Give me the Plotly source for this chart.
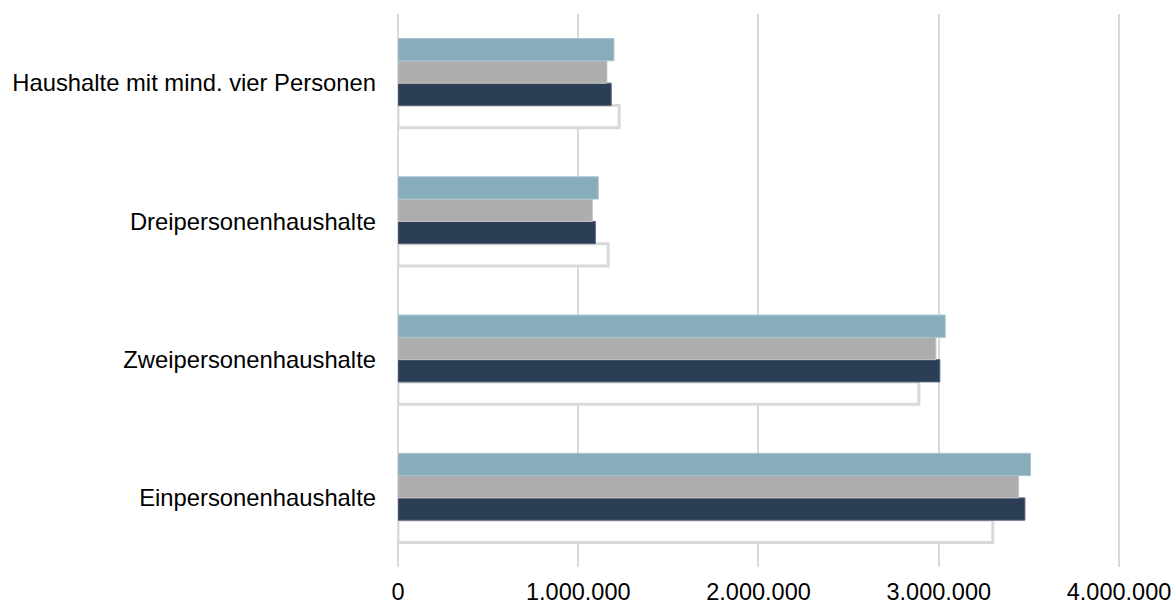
import plotly.graph_objects as go

# Haushaltsgrößen (Kategorien von unten nach oben)
categories = [
    "Einpersonenhaushalte",
    "Zweipersonenhaushalte",
    "Dreipersonenhaushalte",
    "Haushalte mit mind. vier Personen",
]

# Vier Vergleichsreihen, Reihenfolge innerhalb einer Gruppe von unten nach oben
series_a = [3300000, 2890000, 1166000, 1227000]   # weiß, grau umrandet
series_b = [3478000, 3006000, 1095000, 1183000]   # dunkelblau
series_c = [3443000, 2984000, 1078000, 1159000]   # grau
series_d = [3509000, 3036000, 1111000, 1198000]   # hellblau

tick_values = [0, 1000000, 2000000, 3000000, 4000000]
tick_labels = ["0", "1.000.000", "2.000.000", "3.000.000", "4.000.000"]

fig = go.Figure()
fig.add_trace(go.Bar(y=categories, x=series_a, orientation="h",
                     marker=dict(color="#ffffff", line=dict(color="#d9d9d9", width=3))))
fig.add_trace(go.Bar(y=categories, x=series_b, orientation="h",
                     marker=dict(color="#2c3e56", line=dict(color="#55657a", width=1))))
fig.add_trace(go.Bar(y=categories, x=series_c, orientation="h",
                     marker=dict(color="#adadad", line=dict(color="#c4c4c4", width=1))))
fig.add_trace(go.Bar(y=categories, x=series_d, orientation="h",
                     marker=dict(color="#87adbc", line=dict(color="#a9c5d0", width=1))))

fig.update_layout(
    width=1176, height=603,
    margin=dict(l=398, r=48, t=14, b=36),
    paper_bgcolor="#ffffff", plot_bgcolor="#ffffff",
    barmode="group", bargap=0.355, bargroupgap=0,
    showlegend=False,
    font=dict(family="Liberation Sans, Arial, sans-serif", size=23.8, color="#000000"),
    xaxis=dict(range=[0, 4050000], tickvals=tick_values, ticktext=tick_labels,
               showgrid=True, gridcolor="#d9d9d9", gridwidth=2,
               zeroline=True, zerolinecolor="#d9d9d9", zerolinewidth=2,
               showline=False, ticks="", ticklabelstandoff=8, automargin=False,
               tickfont=dict(size=23.5)),
    yaxis=dict(categoryorder="array", categoryarray=categories,
               showgrid=False, zeroline=False, showline=False, ticks="",
               ticklabelstandoff=21, automargin=False, tickfont=dict(size=23.8)),
)

fig.write_html("out.html")
